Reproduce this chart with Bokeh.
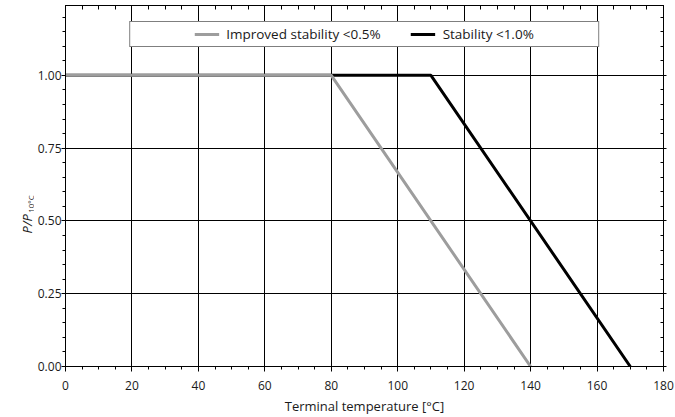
import math
from bokeh.plotting import figure
from bokeh.models import (LinearAxis, SingleIntervalTicker, NumeralTickFormatter,
                          CustomJSTickFormatter, Legend, LegendItem, Range1d, Label)
from bokeh.layouts import row
from bokeh.embed import file_html
from bokeh.resources import INLINE

# data
improved_x = [0, 80, 140]
improved_y = [1.0, 1.0, 0.0]
standard_x = [0, 80, 110, 170]
standard_y = [1.0, 1.0, 1.0, 0.0]
series_names = ["Improved stability <0.5%", "Stability <1.0%"]
x_title = "Terminal temperature [°C]"
y_title_main = "P/P"
y_title_sub = "10°C"

FONT = "Open Sans"
TXT = "#1a1a1a"
GRAY = "#9d9d9d"

W_LAB, H = 34, 417
yr = Range1d(0, 1.24)

# ---- narrow strip that carries the y-axis title (frame aligned with the chart) ----
lab = figure(width=W_LAB, height=H, output_backend="svg", toolbar_location=None,
             x_range=Range1d(0, W_LAB), y_range=yr,
             x_axis_type=None, y_axis_type=None,
             min_border_left=0, min_border_right=0, min_border_top=0, min_border_bottom=0)
lab.outline_line_color = None
lab.xgrid.visible = False
lab.ygrid.visible = False
lab.add_layout(Label(x=26, y=0.457, text=y_title_main, angle=math.pi / 2,
                     text_font=FONT, text_font_size="13px", text_font_style="italic",
                     text_color=TXT, text_align="left", text_baseline="alphabetic"))
lab.add_layout(Label(x=29.5, y=0.528, text=y_title_sub, angle=math.pi / 2,
                     text_font=FONT, text_font_size="8px",
                     text_color=TXT, text_align="left", text_baseline="alphabetic"))

# ---- main chart ----
p = figure(width=675 - W_LAB, height=H, output_backend="svg", toolbar_location=None,
           x_range=Range1d(0, 180), y_range=yr,
           min_border_left=30, min_border_right=12, min_border_top=5, min_border_bottom=51)
p.outline_line_color = "black"
p.outline_line_width = 1

xt = SingleIntervalTicker(interval=20, num_minor_ticks=4)
yt = SingleIntervalTicker(interval=0.25, num_minor_ticks=5)
blank = CustomJSTickFormatter(code="return ''")

def style(ax):
    ax.axis_line_color = "black"
    ax.major_tick_line_color = "black"
    ax.minor_tick_line_color = "black"
    ax.major_label_text_font = FONT
    ax.major_label_text_font_size = "12px"
    ax.major_label_text_color = TXT

xa = p.xaxis[0]
xa.ticker = xt
style(xa)
xa.major_tick_out = 5
xa.major_tick_in = 0
xa.minor_tick_out = 3
xa.minor_tick_in = 0
xa.major_label_standoff = 9
xa.axis_label = x_title
xa.axis_label_text_font = FONT
xa.axis_label_text_font_size = "13px"
xa.axis_label_text_font_style = "normal"
xa.axis_label_text_color = TXT
xa.axis_label_standoff = 4

ya = p.yaxis[0]
ya.ticker = yt
style(ya)
ya.formatter = NumeralTickFormatter(format="0.00")
ya.major_tick_out = 4
ya.major_tick_in = 0
ya.minor_tick_out = 3
ya.minor_tick_in = 0
ya.major_label_standoff = 0

top = LinearAxis(ticker=SingleIntervalTicker(interval=20, num_minor_ticks=4), formatter=blank)
style(top)
top.major_tick_out = 0
top.major_tick_in = 4
top.minor_tick_out = 0
top.minor_tick_in = 4
top.major_label_standoff = 0
p.add_layout(top, "above")

right = LinearAxis(ticker=SingleIntervalTicker(interval=0.25, num_minor_ticks=5), formatter=blank)
style(right)
right.major_tick_out = 3
right.major_tick_in = 4
right.minor_tick_out = 0
right.minor_tick_in = 3
right.major_label_standoff = 0
p.add_layout(right, "right")

for g in (p.xgrid[0], p.ygrid[0]):
    g.grid_line_color = "black"
    g.grid_line_width = 1
p.xgrid[0].ticker = xt
p.ygrid[0].ticker = yt

r_std = p.line(standard_x, standard_y, line_color="black", line_width=3)
r_imp = p.line(improved_x, improved_y, line_color=GRAY, line_width=3)
# empty, transparent spacer entries to widen the legend frame
r_pad = p.line([], [], line_alpha=0)

legend = Legend(items=[LegendItem(label=" ", renderers=[r_pad]),
                       LegendItem(label=series_names[0], renderers=[r_imp]),
                       LegendItem(label=series_names[1], renderers=[r_std]),
                       LegendItem(label="  ", renderers=[r_pad])],
                orientation="horizontal", location="top_center")
legend.margin = 16
legend.padding = 2
legend.spacing = 30
legend.glyph_width = 25
legend.glyph_height = 20
legend.label_height = 20
legend.label_width = 0
legend.label_standoff = 7
legend.label_text_font = FONT
legend.label_text_font_size = "13.5px"
legend.label_text_color = TXT
legend.border_line_color = "black"
legend.border_line_width = 1
legend.background_fill_alpha = 1
p.add_layout(legend, "center")

layout = row(lab, p)
open("out.html", "w").write(file_html(layout, INLINE))
